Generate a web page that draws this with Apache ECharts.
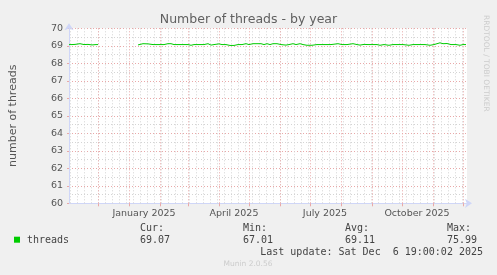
<!DOCTYPE html>
<html>
<head>
<meta charset="utf-8">
<script src="https://cdn.jsdelivr.net/npm/echarts@6/dist/echarts.min.js"></script>
<style>
html,body{margin:0;padding:0;background:#F0F0F0;}
#c{width:497px;height:275px;}
</style>
</head>
<body>
<div id="c"></div>
<script>
// ---- data ----
var dates = [
  '2024-11-02','2024-11-05','2024-11-08','2024-11-10','2024-11-13','2024-11-15','2024-11-17','2024-11-19','2024-11-21','2024-11-23','2024-11-25','2024-11-27','2024-11-29','2024-12-01',
  '2024-12-02','2025-01-09',
  '2025-01-10','2025-01-12','2025-01-15','2025-01-17','2025-01-20','2025-01-22','2025-01-25','2025-01-28','2025-01-30','2025-02-02','2025-02-05','2025-02-07','2025-02-09','2025-02-12','2025-02-15',
  '2025-02-20','2025-02-25','2025-03-01','2025-03-04','2025-03-07','2025-03-12','2025-03-17','2025-03-21','2025-03-24','2025-03-27','2025-04-01','2025-04-04','2025-04-08','2025-04-12','2025-04-16','2025-04-20',
  '2025-04-24','2025-04-28','2025-05-01','2025-05-05','2025-05-09','2025-05-11','2025-05-13','2025-05-16','2025-05-19','2025-05-22','2025-05-25','2025-05-29','2025-06-02','2025-06-07','2025-06-10',
  '2025-06-14','2025-06-17','2025-06-21','2025-06-24','2025-06-28','2025-07-03','2025-07-08','2025-07-15','2025-07-22','2025-07-29','2025-08-02','2025-08-07','2025-08-13','2025-08-17','2025-08-20',
  '2025-08-24','2025-08-28','2025-09-02','2025-09-06','2025-09-09','2025-09-13','2025-09-18','2025-09-22','2025-09-27','2025-10-02','2025-10-08','2025-10-12','2025-10-18','2025-10-24','2025-10-29',
  '2025-11-02','2025-11-05','2025-11-08','2025-11-11','2025-11-15','2025-11-19','2025-11-24','2025-11-28','2025-12-01','2025-12-04'
];
var threads = [
  69.07,69.07,69.08,69.12,69.12,69.09,69.07,69.12,69.08,69.10,69.05,69.07,69.07,69.07,
  null,null,
  69.05,69.12,69.12,69.08,69.11,69.12,69.07,69.07,69.11,69.07,69.07,69.03,69.12,69.12,69.07,
  69.07,69.07,69.07,69.03,69.07,69.07,69.07,69.12,69.04,69.07,69.11,69.07,69.07,69.02,69.02,69.07,
  69.07,69.12,69.07,69.12,69.12,69.07,69.12,69.07,69.12,69.07,69.12,69.12,69.07,69.04,69.07,
  69.12,69.07,69.12,69.07,69.03,69.03,69.07,69.07,69.07,69.12,69.07,69.07,69.12,69.07,69.04,
  69.08,69.07,69.07,69.07,69.03,69.07,69.03,69.07,69.07,69.07,69.03,69.07,69.07,69.07,69.03,
  69.07,69.12,69.17,69.12,69.13,69.07,69.07,69.03,69.07,69.07
];
var xLabels = ['January 2025','April 2025','July 2025','October 2025'];
var xLabelDates = ['2025-01-16','2025-04-16','2025-07-16','2025-10-16'];
var yTicks = [60,61,62,63,64,65,66,67,68,69,70];
var legendStats = {cur:'69.07', min:'67.01', avg:'69.11', max:'75.99'};

function ts(s){ var p=s.split('-'); return Date.UTC(+p[0], +p[1]-1, +p[2]); }

var xMin = Date.UTC(2024,10,2,0);
var xMax = Date.UTC(2025,11,5,0);

var seriesData = dates.map(function(d,i){ return [ts(d), threads[i]]; });

var monthStarts = [];
for (var y=2024, m=11; y<2026; ) {
  var t = Date.UTC(y,m,1);
  if (t>xMin && t<xMax) monthStarts.push(t);
  m++; if (m>11){m=0;y++;}
}
var weeks = [];
for (var t=Date.UTC(2024,10,3); t<xMax; t+=7*86400000) { if (t>xMin) weeks.push(t); }

var labelPos = xLabelDates.map(ts);

var chart = echarts.init(document.getElementById('c'), null, {renderer:'canvas'});
var GRID_MAJOR = '#E9A8A8';
var GRID_MINOR = '#D4D4D4';
var AXIS = '#CFD6F8';
var FONT = 'DejaVu Sans';
var MONO = 'DejaVu Sans Mono';

chart.setOption({
  backgroundColor:'#F0F0F0',
  animation:false,
  title:{
    text:'Number of threads - by year', left:'center', top:8,
    textStyle:{fontFamily:FONT, fontSize:12.5, fontWeight:'normal', color:'#606060'}
  },
  grid:{left:66.7, right:30, top:28.3, bottom:71.7, show:true, backgroundColor:'#FFFFFF', borderWidth:0},
  xAxis:{
    type:'value', min:xMin, max:xMax,
    axisLine:{show:true, lineStyle:{color:AXIS, width:1}, symbol:['none','arrow'], symbolSize:[7,7], symbolOffset:[0,5]},
    axisTick:{show:true, customValues:monthStarts, length:3, lineStyle:{color:GRID_MAJOR}},
    axisLabel:{
      customValues:labelPos, margin:5,
      formatter:function(v){ var best=0; for(var k=0;k<labelPos.length;k++){ if(Math.abs(labelPos[k]-v)<Math.abs(labelPos[best]-v)) best=k; } return xLabels[best]; },
      fontFamily:FONT, fontSize:9.5, color:'#555555'
    },
    splitLine:{show:false}
  },
  yAxis:{
    type:'value', min:60, max:70, interval:1,
    name:'number of threads', nameLocation:'middle', nameGap:50, nameRotate:90,
    nameTextStyle:{fontFamily:FONT, fontSize:11, color:'#555555'},
    axisLine:{show:true, lineStyle:{color:AXIS, width:1}, symbol:['none','arrow'], symbolSize:[7,7], symbolOffset:[0,5]},
    axisTick:{show:true, length:2, lineStyle:{color:GRID_MAJOR}},
    axisLabel:{fontFamily:FONT, fontSize:9.5, color:'#555555', margin:6,
      formatter:function(v){ return yTicks.indexOf(v)>=0 ? String(v) : ''; }},
    splitLine:{show:true, lineStyle:{color:GRID_MAJOR, type:[1,2], width:1}},
    minorTick:{show:false, splitNumber:2},
    minorSplitLine:{show:true, lineStyle:{color:GRID_MINOR, type:[1,2], width:1}}
  },
  series:[
    {
      type:'line', data:[], z:1, silent:true,
      markLine:{
        silent:true, symbol:['none','none'], label:{show:false}, animation:false,
        lineStyle:{color:GRID_MINOR, type:[1,2], width:1},
        data: weeks.map(function(t){ return {xAxis:t}; })
      }
    },
    {
      type:'line', data:[], z:2, silent:true,
      markLine:{
        silent:true, symbol:['none','none'], label:{show:false}, animation:false,
        lineStyle:{color:GRID_MAJOR, type:[1,2], width:1},
        data: monthStarts.map(function(t){ return {xAxis:t}; })
      }
    },
    {
      name:'threads', type:'line', data:seriesData, z:5,
      showSymbol:false, connectNulls:false,
      lineStyle:{color:'#00CC00', width:1}, itemStyle:{color:'#00CC00'}
    }
  ],
  graphic:[
    {type:'text', left:482, top:15, rotation:-Math.PI/2, style:{text:'RRDTOOL / TOBI OETIKER', fontFamily:FONT, fontSize:7.5, fill:'#CCCCCC'}},
    {type:'rect', shape:{x:14, y:236.7, width:6, height:6}, style:{fill:'#00CC00'}},
    {type:'text', x:27, y:240, style:{text:'threads', fontFamily:MONO, fontSize:10, fill:'#444444', verticalAlign:'middle'}},
    {type:'text', x:140, y:228, style:{text:'Cur:', fontFamily:MONO, fontSize:10, fill:'#444444', verticalAlign:'middle'}},
    {type:'text', x:140, y:240, style:{text:legendStats.cur, fontFamily:MONO, fontSize:10, fill:'#444444', verticalAlign:'middle'}},
    {type:'text', x:243, y:228, style:{text:'Min:', fontFamily:MONO, fontSize:10, fill:'#444444', verticalAlign:'middle'}},
    {type:'text', x:243, y:240, style:{text:legendStats.min, fontFamily:MONO, fontSize:10, fill:'#444444', verticalAlign:'middle'}},
    {type:'text', x:345, y:228, style:{text:'Avg:', fontFamily:MONO, fontSize:10, fill:'#444444', verticalAlign:'middle'}},
    {type:'text', x:345, y:240, style:{text:legendStats.avg, fontFamily:MONO, fontSize:10, fill:'#444444', verticalAlign:'middle'}},
    {type:'text', x:447, y:228, style:{text:'Max:', fontFamily:MONO, fontSize:10, fill:'#444444', verticalAlign:'middle'}},
    {type:'text', x:447, y:240, style:{text:legendStats.max, fontFamily:MONO, fontSize:10, fill:'#444444', verticalAlign:'middle'}},
    {type:'text', x:483, y:252, style:{text:'Last update: Sat Dec  6 19:00:02 2025', fontFamily:MONO, fontSize:10, fill:'#444444', align:'right', verticalAlign:'middle'}},
    {type:'text', x:248, y:264, style:{text:'Munin 2.0.56', fontFamily:FONT, fontSize:7.5, fill:'#CCCCCC', align:'center', verticalAlign:'middle'}}
  ]
});
</script>
</body>
</html>
